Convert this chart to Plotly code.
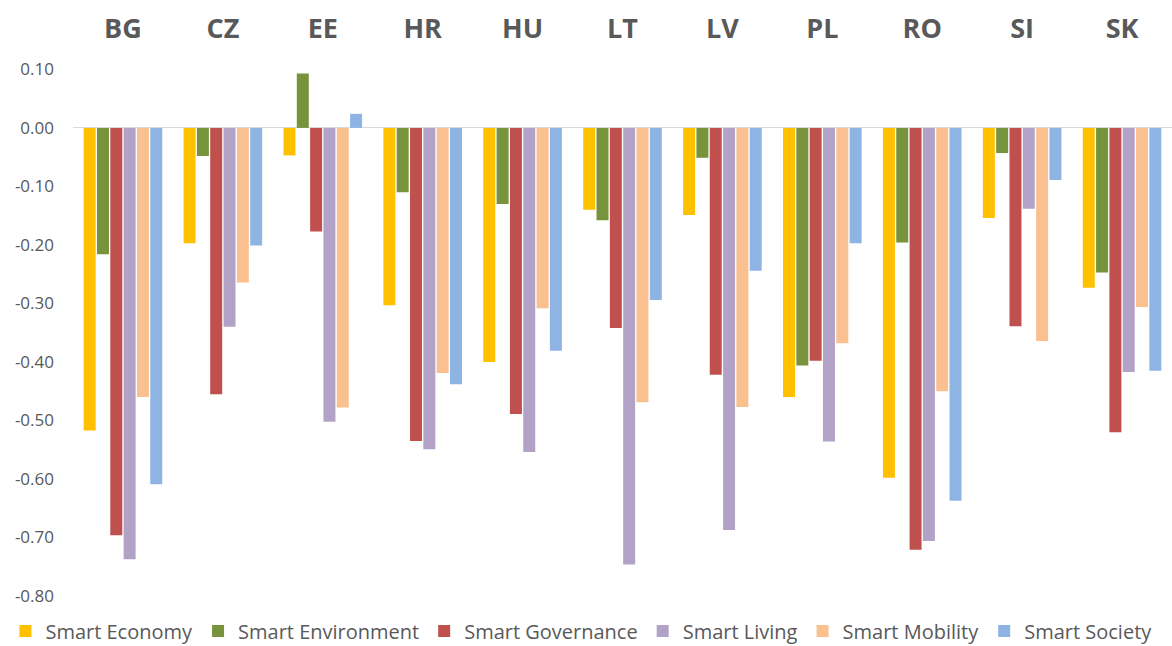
import plotly.graph_objects as go

countries = ["BG", "CZ", "EE", "HR", "HU", "LT", "LV", "PL", "RO", "SI", "SK"]
series_names = ["Smart Economy", "Smart Environment", "Smart Governance",
                "Smart Living", "Smart Mobility", "Smart Society"]

smart_economy = [-0.517, -0.197, -0.047, -0.303, -0.400, -0.140, -0.149, -0.460, -0.598, -0.154, -0.273]
smart_environment = [-0.216, -0.048, 0.093, -0.110, -0.130, -0.158, -0.051, -0.406, -0.196, -0.043, -0.247]
smart_governance = [-0.696, -0.455, -0.177, -0.535, -0.489, -0.342, -0.422, -0.398, -0.721, -0.339, -0.520]
smart_living = [-0.737, -0.340, -0.502, -0.549, -0.554, -0.746, -0.687, -0.536, -0.706, -0.138, -0.417]
smart_mobility = [-0.460, -0.264, -0.478, -0.419, -0.308, -0.469, -0.477, -0.368, -0.450, -0.364, -0.306]
smart_society = [-0.609, -0.201, 0.024, -0.438, -0.381, -0.294, -0.244, -0.197, -0.637, -0.089, -0.415]

tick_vals = [0.1, 0.0, -0.1, -0.2, -0.3, -0.4, -0.5, -0.6, -0.7, -0.8]
tick_text = ["0.10", "0.00", "-0.10", "-0.20", "-0.30", "-0.40", "-0.50", "-0.60", "-0.70", "-0.80"]

colors = ["#FFC000", "#77933C", "#C0504D", "#B3A2C7", "#FAC090", "#8EB4E3"]
values = [smart_economy, smart_environment, smart_governance, smart_living, smart_mobility, smart_society]

fig = go.Figure()
for name, vals, col in zip(series_names, values, colors):
    fig.add_trace(go.Bar(x=countries, y=vals, name=name, marker_color=col,
                         marker_line_width=0))

fig.update_layout(
    width=1172, height=646,
    paper_bgcolor="white", plot_bgcolor="white",
    margin=dict(l=73, r=0, t=46, b=50, autoexpand=False),
    barmode="group", bargap=0.2, bargroupgap=0.1,
    font=dict(family="Open Sans", color="#595959"),
    showlegend=True,
    legend=dict(orientation="h", xref="paper", yref="paper",
                x=-0.0615, y=-0.099, xanchor="left", yanchor="bottom",
                font=dict(size=20, color="#595959", family="Open Sans"),
                itemwidth=30, tracegroupgap=0),
    xaxis=dict(side="top", range=[-0.5, 10.5], showgrid=False, showline=False,
               automargin=False, ticks="", ticklabelstandoff=2,
               tickfont=dict(size=27, family="Open Sans", color="#595959",
                             weight="bold")),
    yaxis=dict(range=[-0.8, 0.14], tickvals=tick_vals, ticktext=tick_text,
               showgrid=False, zeroline=True, zerolinecolor="#D9D9D9",
               zerolinewidth=1, showline=False, ticks="", automargin=False,
               ticklabelstandoff=18,
               tickfont=dict(size=17, family="Open Sans", color="#595959")),
)

fig.write_html("out.html", config={"displayModeBar": False},
               post_script="document.body.style.margin='0';")
